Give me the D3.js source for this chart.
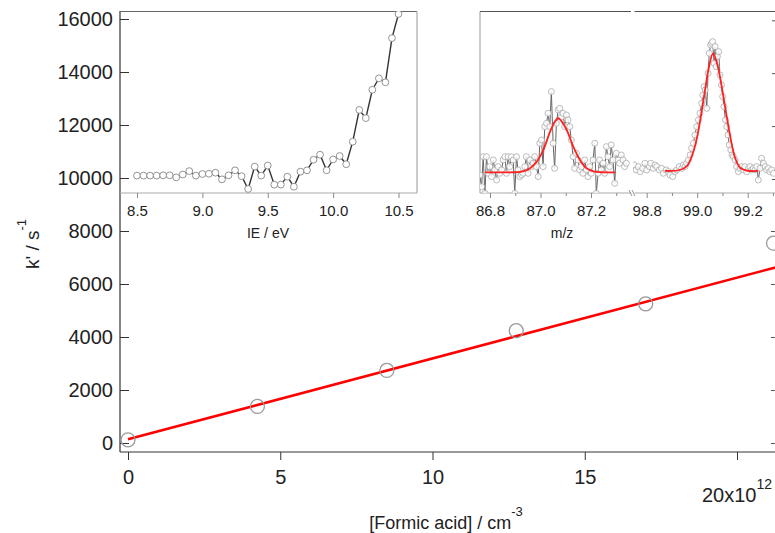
<!DOCTYPE html>
<html><head><meta charset="utf-8">
<script src="https://cdn.jsdelivr.net/npm/d3@7"></script>
<style>body{margin:0;background:#fff} svg{display:block} text{font-family:"Liberation Sans",Arial,sans-serif;fill:#222}</style>
</head><body>
<svg id="c" width="775" height="533"></svg>
<script>
// ---- main plot data ----
const concX = [0, 4.25, 8.5, 12.75, 17.0, 21.2];          // [Formic acid] / 1e12 cm^-3
const kPrime = [120, 1380, 2740, 4240, 5250, 7540];        // k' / s^-1
const fitIntercept = 140, fitSlope = 305;                  // linear fit
const mainXTicks = [0, 5, 10, 15, 20];
const mainYTicks = [0, 2000, 4000, 6000, 8000, 10000, 12000, 14000, 16000];

// ---- left inset: IE scan ----
const ieX = [8.50,8.55,8.60,8.65,8.70,8.75,8.80,8.85,8.90,8.95,9.00,9.05,9.10,9.15,9.20,9.25,9.30,9.35,9.40,9.45,9.50,9.55,9.60,9.65,9.70,9.75,9.80,9.85,9.90,9.95,10.00,10.05,10.10,10.15,10.20,10.25,10.30,10.35,10.40,10.45,10.50];
const ieK = [10090,10090,10090,10090,10100,10100,10025,10130,10260,10090,10150,10160,10200,9950,10100,10290,10070,9585,10430,10090,10470,9750,9750,10050,9670,10240,10290,10690,10880,10290,10700,10830,10520,11370,12570,12260,13330,13760,13610,15280,16190];
const ieTicks = [8.5, 9.0, 9.5, 10.0, 10.5];

// ---- right inset: mass spectrum (two segments, broken axis) ----
const mzA = [86.760,86.767,86.773,86.780,86.786,86.793,86.799,86.806,86.813,86.819,86.826,86.832,86.839,86.846,86.852,86.859,86.865,86.872,86.878,86.885,86.892,86.898,86.905,86.911,86.918,86.925,86.931,86.938,86.944,86.951,86.958,86.964,86.971,86.977,86.984,86.991,86.997,87.004,87.010,87.017,87.024,87.030,87.037,87.043,87.050,87.056,87.063,87.070,87.076,87.083,87.089,87.096,87.103,87.109,87.116,87.122,87.129,87.135,87.142,87.149,87.155,87.162,87.168,87.175,87.182,87.188,87.195,87.201,87.208,87.215,87.221,87.228,87.234,87.241,87.248,87.254,87.261,87.267,87.274,87.280,87.287,87.294,87.300,87.307,87.313,87.320,87.327,87.333,87.340];
const intA = [3.8,-7.2,21.1,-13.5,21.1,5.4,11.7,2.3,18.0,8.6,-0.9,11.7,5.4,8.6,18.0,21.1,5.4,21.1,11.7,21.1,18.0,-13.5,21.1,8.6,2.3,3.8,5.4,11.7,21.1,5.4,18.0,11.7,14.9,21.1,11.7,2.3,33.8,36.9,11.7,49.5,52.7,62.1,49.5,82.6,33.8,10.1,52.7,65.3,66.8,58.9,62.1,49.5,60.5,55.8,49.5,36.9,21.1,10.1,24.3,18.0,8.6,11.7,5.4,18.0,8.6,2.3,11.7,5.4,18.0,33.8,-13.5,5.4,18.0,8.6,14.9,5.4,30.6,21.1,11.7,32.2,18.0,-4.1,24.3,18.0,14.9,22.7,18.0,11.7,14.9];
const fitMzA = [86.780,86.900,86.930,86.960,86.985,87.011,87.038,87.055,87.070,87.085,87.104,87.130,87.156,87.180,87.210,87.240,87.295];
const fitIntA = [6.3,6.4,7.2,10.5,16.4,27.4,44.7,53.5,57.4,54.0,46.3,30.5,18.0,10.5,7.2,6.4,6.3];

const mzB = [98.741,98.750,98.758,98.767,98.774,98.784,98.793,98.800,98.811,98.816,98.826,98.833,98.840,98.850,98.859,98.866,98.877,98.886,98.892,98.903,98.912,98.919,98.929,98.939,98.945,98.952,98.958,98.965,98.972,98.978,98.985,98.991,98.998,99.005,99.011,99.018,99.022,99.027,99.032,99.038,99.043,99.048,99.053,99.057,99.061,99.067,99.071,99.075,99.080,99.085,99.090,99.096,99.101,99.106,99.112,99.117,99.122,99.127,99.133,99.138,99.143,99.150,99.156,99.163,99.170,99.176,99.183,99.189,99.196,99.203,99.209,99.216,99.222,99.229,99.236,99.242,99.249,99.255,99.262,99.269,99.275,99.282,99.288,99.295,99.302];
const intB = [11.7,13.3,8.6,11.7,7.0,10.1,14.9,8.6,11.7,14.9,10.1,13.3,11.7,8.6,10.1,5.4,8.6,7.0,3.8,2.3,7.0,8.6,11.7,10.1,13.3,11.7,14.9,18.0,22.7,29.0,33.8,41.6,49.5,55.8,62.1,71.6,79.4,87.3,84.2,66.8,99.9,118.8,126.7,128.3,129.8,109.4,125.1,106.2,115.7,120.4,98.3,88.9,77.9,68.4,55.8,49.5,41.6,32.2,27.5,22.7,21.2,18.0,11.7,7.0,10.1,11.7,8.6,11.7,7.0,10.1,11.7,8.6,10.1,8.6,11.7,-0.9,10.1,19.6,14.9,11.7,8.6,10.1,7.0,8.6,5.4];
const fitMzB = [98.872,98.930,98.960,98.985,99.000,99.015,99.031,99.045,99.063,99.080,99.095,99.112,99.131,99.150,99.171,99.200,99.242];
const fitIntB = [7.6,8.5,12.5,26,40,60,84,104,118.8,108,90,66,40,20,10.5,7.8,7.6];
const mzTicksA = [86.8, 87.0, 87.2], mzMinorA = [86.9, 87.1, 87.3];
const mzTicksB = [98.8, 99.0, 99.2], mzMinorB = [98.9, 99.1, 99.3];
const intTicks = [0, 50, 100, 150];

const svg = d3.select("#c");
const axisCol = "#333";

// scales
const xMain = d3.scaleLinear().domain([0, 20]).range([128, 737]);
const yMain = d3.scaleLinear().domain([0, 16000]).range([443, 19]);
const xIE = d3.scaleLinear().domain([8.5, 10.5]).range([137, 398.5]);
const xA = d3.scaleLinear().domain([86.8, 87.2]).range([490, 591]);
const xB = d3.scaleLinear().domain([98.8, 99.2]).range([646.7, 747.7]);
const yInt = d3.scaleLinear().domain([0, 150]).range([179, 20.3]);

const defs = svg.append("defs");
defs.append("clipPath").attr("id","cMain").append("rect").attr("x",120).attr("y",11).attr("width",660).attr("height",441);
defs.append("clipPath").attr("id","cIE").append("rect").attr("x",120).attr("y",11).attr("width",297).attr("height",182);
defs.append("clipPath").attr("id","cA").append("rect").attr("x",480).attr("y",11).attr("width",152).attr("height",182);
defs.append("clipPath").attr("id","cB").append("rect").attr("x",633).attr("y",11).attr("width",145).attr("height",182);

// ---- main axes ----
const yAx = svg.append("g").attr("transform","translate(120,0)")
  .call(d3.axisLeft(yMain).tickValues(mainYTicks).tickSize(-9).tickSizeOuter(0).tickPadding(7).tickFormat(d3.format("d")));
yAx.select(".domain").remove();
yAx.selectAll("line").attr("stroke",axisCol);
yAx.selectAll("text").style("font-size","20px").attr("fill","#222");
svg.append("line").attr("x1",120).attr("x2",120).attr("y1",11).attr("y2",452).attr("stroke",axisCol).attr("stroke-width",1.2);

// mirrored right axis (just off the canvas edge)
const yAxR = svg.append("g").attr("transform","translate(777,0)")
  .call(d3.axisRight(yMain).tickValues(mainYTicks).tickSize(-6).tickSizeOuter(0).tickFormat(""));
yAxR.select(".domain").remove();
yAxR.selectAll("line").attr("stroke","#555");

const xAx = svg.append("g").attr("transform","translate(0,452)")
  .call(d3.axisBottom(xMain).tickValues(mainXTicks).tickSize(8).tickSizeOuter(0).tickPadding(10)
    .tickFormat(d => d === 20 ? "" : d));
xAx.select(".domain").remove();
xAx.selectAll("line").attr("stroke",axisCol);
xAx.selectAll("text").style("font-size","20px").attr("fill","#222");
svg.append("line").attr("x1",120).attr("x2",775).attr("y1",452).attr("y2",452).attr("stroke",axisCol).attr("stroke-width",1.2);

const t20 = svg.append("text").attr("x", xMain(20)).attr("y", 502).attr("text-anchor","middle").style("font-size","20px");
t20.append("tspan").text("20x10");
t20.append("tspan").attr("dy",-13).style("font-size","14px").text("12");

const xl = svg.append("text").attr("x",446).attr("y",529).attr("text-anchor","middle").style("font-size","18px");
xl.append("tspan").text("[Formic acid] / cm");
xl.append("tspan").attr("dy",-13).style("font-size","13px").text("-3");

const yl = svg.append("text").attr("transform","translate(39,244) rotate(-90)").attr("text-anchor","middle").style("font-size","19px");
yl.append("tspan").text("k' / s");
yl.append("tspan").attr("dy",-13).style("font-size","13px").text("-1");

// ---- main data ----
const gMain = svg.append("g").attr("clip-path","url(#cMain)");
gMain.append("line")
  .attr("x1", xMain(0)).attr("y1", yMain(fitIntercept))
  .attr("x2", xMain(21.6)).attr("y2", yMain(fitIntercept + fitSlope*21.6))
  .attr("stroke","#ff0000").attr("stroke-width",2.6);
gMain.selectAll("circle.m").data(concX).join("circle")
  .attr("cx",(d)=>xMain(d)).attr("cy",(d,i)=>yMain(kPrime[i])).attr("r",7)
  .attr("fill","none").attr("stroke","#999").attr("stroke-width",1.3);

// ---- left inset ----
svg.append("line").attr("x1",120).attr("x2",417).attr("y1",11.5).attr("y2",11.5).attr("stroke","#666").attr("stroke-width",1.2);
svg.append("line").attr("x1",417).attr("x2",417).attr("y1",11.5).attr("y2",193).attr("stroke","#aaa").attr("stroke-width",1.2);
svg.append("line").attr("x1",120).attr("x2",417).attr("y1",193).attr("y2",193).attr("stroke","#aaa").attr("stroke-width",1.2);
const ieAx = svg.append("g").attr("transform","translate(0,193)")
  .call(d3.axisBottom(xIE).tickValues(ieTicks).tickSize(5).tickSizeOuter(0).tickPadding(7).tickFormat(d3.format(".1f")));
ieAx.select(".domain").remove();
ieAx.selectAll("line").attr("stroke","#888");
ieAx.selectAll("text").style("font-size","15px").attr("fill","#222");
svg.append("text").attr("x",268).attr("y",238).attr("text-anchor","middle").style("font-size","14px").text("IE / eV");

const gIE = svg.append("g").attr("clip-path","url(#cIE)");
const ieData = ieX.map((x,i)=>[x, ieK[i]]);
gIE.append("path").datum(ieData)
  .attr("d", d3.line().x(d=>xIE(d[0])).y(d=>yMain(d[1])))
  .attr("fill","none").attr("stroke","#333").attr("stroke-width",1.4);
gIE.selectAll("circle").data(ieData).join("circle")
  .attr("cx",d=>xIE(d[0])).attr("cy",d=>yMain(d[1])).attr("r",3.4)
  .attr("fill","#fff").attr("stroke","#888").attr("stroke-width",0.9);

// ---- right inset ----
svg.append("rect").attr("x",480).attr("y",11.5).attr("width",300).attr("height",181.5).attr("fill","#fff");
svg.append("line").attr("x1",480).attr("x2",480).attr("y1",11.5).attr("y2",193).attr("stroke","#aaa").attr("stroke-width",1.2);
svg.append("line").attr("x1",480).attr("x2",631).attr("y1",11.5).attr("y2",11.5).attr("stroke","#555").attr("stroke-width",1.2);
svg.append("line").attr("x1",634.5).attr("x2",775).attr("y1",11.5).attr("y2",11.5).attr("stroke","#555").attr("stroke-width",1.2);
svg.append("line").attr("x1",480).attr("x2",631).attr("y1",193).attr("y2",193).attr("stroke","#aaa").attr("stroke-width",1.2);
svg.append("line").attr("x1",634.5).attr("x2",775).attr("y1",193).attr("y2",193).attr("stroke","#aaa").attr("stroke-width",1.2);
svg.append("path").attr("d","M629,190L632,196M632,190L635,196").attr("stroke","#777").attr("stroke-width",0.8);

function msAxis(scale, major, minor) {
  const g = svg.append("g").attr("transform","translate(0,193)")
    .call(d3.axisBottom(scale).tickValues(major).tickSize(5).tickSizeOuter(0).tickPadding(7).tickFormat(d3.format(".1f")));
  g.select(".domain").remove();
  g.selectAll("line").attr("stroke","#888");
  g.selectAll("text").style("font-size","15px").attr("fill","#222");
  const m = svg.append("g").attr("transform","translate(0,193)")
    .call(d3.axisBottom(scale).tickValues(minor).tickSize(3).tickSizeOuter(0).tickFormat(""));
  m.select(".domain").remove();
  m.selectAll("line").attr("stroke","#888");
}
msAxis(xA, mzTicksA, mzMinorA);
msAxis(xB, mzTicksB, mzMinorB);
svg.append("text").attr("x",562).attr("y",238).attr("text-anchor","middle").style("font-size","14px").text("m/z");

const yIntAx = svg.append("g").attr("transform","translate(777,0)")
  .call(d3.axisRight(yInt).tickValues(intTicks).tickSize(-5).tickSizeOuter(0).tickFormat(""));
yIntAx.select(".domain").remove();
yIntAx.selectAll("line").attr("stroke","#555");

function spectrum(clip, xs, mz, inten, fmz, fint) {
  const g = svg.append("g").attr("clip-path", clip);
  const pts = mz.map((m,i)=>[m, inten[i]]);
  g.append("path").datum(pts)
    .attr("d", d3.line().x(d=>xs(d[0])).y(d=>yInt(d[1])))
    .attr("fill","none").attr("stroke","#666").attr("stroke-width",1);
  g.selectAll("circle").data(pts).join("circle")
    .attr("cx",d=>xs(d[0])).attr("cy",d=>yInt(d[1])).attr("r",3)
    .attr("fill","#fff").attr("fill-opacity",0.85).attr("stroke","#aaa").attr("stroke-width",0.8);
  const fp = fmz.map((m,i)=>[m, fint[i]]);
  g.append("path").datum(fp)
    .attr("d", d3.line().curve(d3.curveCatmullRom).x(d=>xs(d[0])).y(d=>yInt(d[1])))
    .attr("fill","none").attr("stroke","#ff2020").attr("stroke-width",1.8);
}
spectrum("url(#cA)", xA, mzA, intA, fitMzA, fitIntA);
spectrum("url(#cB)", xB, mzB, intB, fitMzB, fitIntB);
</script>
</body></html>
